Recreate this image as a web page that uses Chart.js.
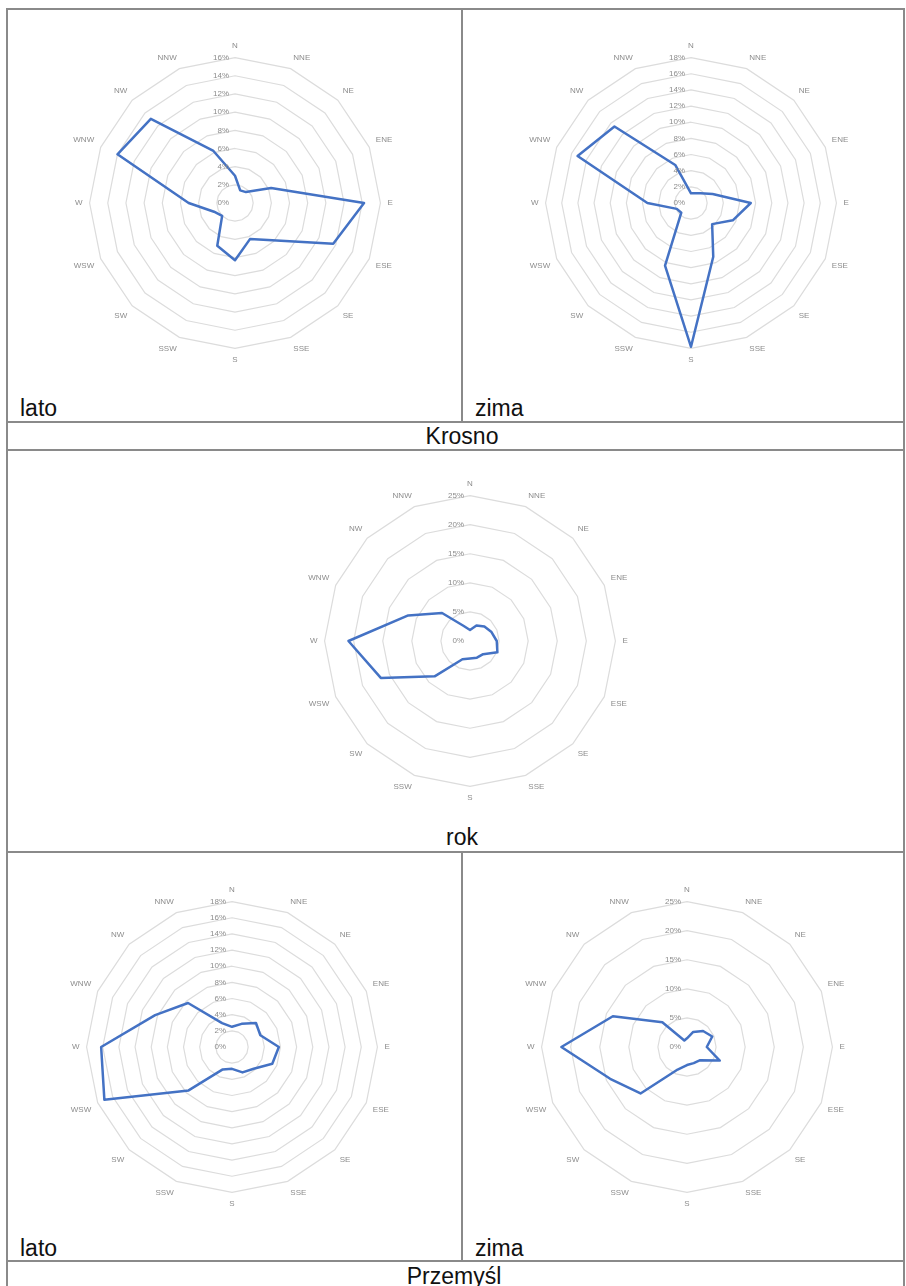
<!DOCTYPE html>
<html>
<head>
<meta charset="utf-8">
<script src="https://cdn.jsdelivr.net/npm/chart.js@4.4.0/dist/chart.umd.min.js"></script>
<style>
  body { margin: 0; background: #fff; width: 906px; height: 1286px; overflow: hidden; position: relative;
         font-family: "Liberation Sans", Arial, sans-serif; }
  .ln { position: absolute; background: #8a8a8a; }
  .wykres { position: absolute; width: 324px; height: 324px; }
  .opis { position: absolute; font-size: 23px; color: #111; line-height: 1; white-space: nowrap; }
</style>
</head>
<body>

<!-- ramki tabeli -->
<div class="ln" style="left:6px;top:8px;width:898px;height:2px"></div>
<div class="ln" style="left:6px;top:8px;width:2px;height:1278px"></div>
<div class="ln" style="left:903px;top:8px;width:2px;height:1278px"></div>
<div class="ln" style="left:461px;top:8px;width:2px;height:414px"></div>
<div class="ln" style="left:6px;top:421px;width:898px;height:2px"></div>
<div class="ln" style="left:6px;top:449px;width:898px;height:2px"></div>
<div class="ln" style="left:6px;top:851px;width:898px;height:2px"></div>
<div class="ln" style="left:461px;top:851px;width:2px;height:410px"></div>
<div class="ln" style="left:6px;top:1260px;width:898px;height:2px"></div>

<div class="wykres" style="left:72px;top:42px"><canvas id="krosnoLato"></canvas></div>
<div class="wykres" style="left:528px;top:42px"><canvas id="krosnoZima"></canvas></div>
<div class="wykres" style="left:307px;top:480px"><canvas id="krosnoRok"></canvas></div>
<div class="wykres" style="left:69px;top:886px"><canvas id="przemyslLato"></canvas></div>
<div class="wykres" style="left:524px;top:886px"><canvas id="przemyslZima"></canvas></div>

<div class="opis" style="left:20px;top:397px">lato</div>
<div class="opis" style="left:475px;top:397px">zima</div>
<div class="opis" style="left:0;width:924px;text-align:center;top:425px">Krosno</div>
<div class="opis" style="left:0;width:924px;text-align:center;top:826px">rok</div>
<div class="opis" style="left:20px;top:1237px">lato</div>
<div class="opis" style="left:475px;top:1237px">zima</div>
<div class="opis" style="left:0;width:908px;text-align:center;top:1265px">Przemyśl</div>

<script>
const kierunki = ['N', 'NNE', 'NE', 'ENE', 'E', 'ESE', 'SE', 'SSE', 'S', 'SSW', 'SW', 'WSW', 'W', 'WNW', 'NW', 'NNW'];

// czestosc wiatru z danego kierunku [%]
const krosnoLato = [3.0, 1.5, 1.7, 4.3, 14.2, 11.7, 5.8, 4.3, 6.3, 5.1, 2.0, 2.5, 5.1, 14.0, 13.1, 6.2];
const krosnoZima = [1.2, 1.3, 1.7, 2.9, 7.4, 5.6, 3.7, 7.2, 17.8, 8.4, 1.7, 1.9, 5.4, 15.2, 13.4, 5.1];
const krosnoRok = [1.9, 2.9, 3.5, 4.0, 4.6, 5.1, 3.2, 3.1, 3.0, 3.4, 8.6, 16.6, 20.9, 11.5, 6.8, 2.8];
const przemyslLato = [2.5, 3.1, 4.2, 3.8, 5.8, 5.4, 3.8, 3.4, 2.7, 3.0, 7.6, 17.1, 16.2, 10.3, 7.7, 3.2];
const przemyslZima = [1.5, 2.8, 3.9, 4.7, 3.4, 6.1, 3.2, 3.0, 3.1, 4.2, 11.3, 14.3, 21.6, 13.8, 6.0, 1.2];

// etykiety % po lewej stronie osi N, razem z 0%
const etykietyProcent = {
    id: 'etykietyProcent',
    afterDraw(chart) {
        const skala = chart.scales.r;
        const ctx = chart.ctx;
        ctx.save();
        ctx.font = '8px "Liberation Sans", Arial, sans-serif';
        ctx.fillStyle = '#8c8c8c';
        ctx.textAlign = 'right';
        ctx.textBaseline = 'middle';
        skala.ticks.forEach(t => {
            const d = skala.getDistanceFromCenterForValue(t.value);
            ctx.fillText(t.value + '%', skala.xCenter - 6, skala.yCenter - d);
        });
        ctx.restore();
    }
};

const wykresRadar = (id, dane, max, krok) => {
    const config = {
        type: 'radar',
        data: {
            labels: kierunki,
            datasets: [{
                data: dane,
                borderColor: '#4472C4',
                borderWidth: 2.5,
                borderJoinStyle: 'round',
                fill: false,
                pointRadius: 0,
                tension: 0,
            }],
        },
        options: {
            responsive: true,
            maintainAspectRatio: false,
            animation: false,
            events: [],
            plugins: { legend: { display: false }, tooltip: { enabled: false } },
            scales: {
                r: {
                    min: 0,
                    max: max,
                    ticks: { stepSize: krok, display: false },
                    grid: { color: '#dcdcdc', lineWidth: 1.2 },
                    angleLines: { display: false },
                    pointLabels: {
                        padding: 7,
                        color: '#8c8c8c',
                        font: { size: 8, family: '"Liberation Sans", Arial, sans-serif' },
                    },
                },
            },
        },
        plugins: [etykietyProcent],
    };
    return new Chart(document.getElementById(id), config);
};

wykresRadar('krosnoLato', krosnoLato, 16, 2);
wykresRadar('krosnoZima', krosnoZima, 18, 2);
wykresRadar('krosnoRok', krosnoRok, 25, 5);
wykresRadar('przemyslLato', przemyslLato, 18, 2);
wykresRadar('przemyslZima', przemyslZima, 25, 5);
</script>
</body>
</html>
